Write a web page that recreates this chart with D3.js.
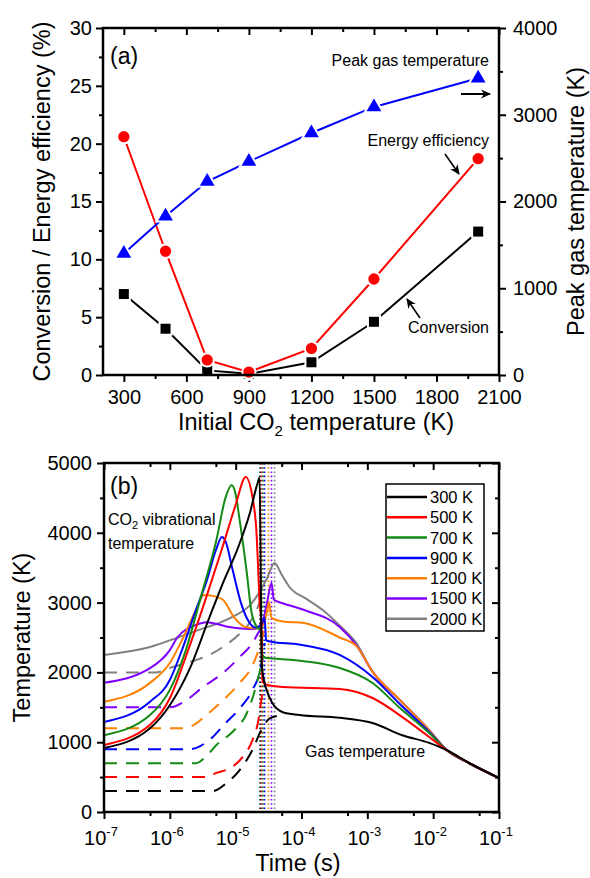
<!DOCTYPE html>
<html><head><meta charset="utf-8">
<script src="https://cdn.jsdelivr.net/npm/d3@7"></script>
<style>
body{margin:0;background:#fff}
svg{display:block}
text{font-family:"Liberation Sans",Arial,Helvetica,sans-serif;fill:#000}
</style>
</head><body>
<svg id="chart" width="590" height="878"></svg>
<script>
// ---------- Panel (a) data ----------
const aTemps = [300, 500, 700, 900, 1200, 1500, 2000];
const conversion = [7.0, 4.0, 0.4, 0.1, 1.1, 4.6, 12.4];
const efficiency = [20.6, 10.7, 1.3, 0.25, 2.3, 8.3, 18.7];
const peakGasTemp = [1400, 1830, 2230, 2460, 2790, 3090, 3420];
const aXTicks = [300, 600, 900, 1200, 1500, 1800, 2100];
const aXMinor = [450, 750, 1050, 1350, 1650, 1950];
const aYTicks = [0, 5, 10, 15, 20, 25, 30];
const aYMinor = [2.5, 7.5, 12.5, 17.5, 22.5, 27.5];
const aY2Ticks = [0, 1000, 2000, 3000, 4000];
const aY2Minor = [500, 1500, 2500, 3500];

// ---------- Panel (b) data ----------
const seriesNames = ["300 K", "500 K", "700 K", "900 K", "1200 K", "1500 K", "2000 K"];
const pulseEnd = [2.35e-5, 2.5e-5, 2.6e-5, 2.75e-5, 3.15e-5, 3.5e-5, 3.9e-5];
const bYTicks = [0, 1000, 2000, 3000, 4000, 5000];
const bYMinor = [500, 1500, 2500, 3500, 4500];
const bXExp = [-7, -6, -5, -4, -3, -2, -1];
const bXMinor = [5e-7, 5e-6, 5e-5, 5e-4, 5e-3, 5e-2];

// solid: CO2 vibrational temperature during pulse, then gas temperature after
const tSolid300 = [1e-7, 5e-7, 1e-6, 2e-6, 4e-6, 6.4e-6, 1.1e-5, 1.64e-5, 2.15e-5, 2.31e-5, 2.4e-5, 2.48e-5, 2.7e-5, 2.95e-5, 3.6e-5, 5.2e-5, 9.3e-5, 3.8e-4, 1.2e-3, 3.4e-3, 8.7e-3, 1.6e-2, 3.5e-2, 1e-1];
const vSolid300 = [917, 1200, 1530, 2050, 2790, 3280, 3800, 4280, 4710, 4790, 3500, 2130, 1880, 1750, 1560, 1430, 1390, 1350, 1275, 1100, 990, 888, 702, 487];
const tSolid500 = [1e-7, 5e-7, 1e-6, 1.9e-6, 3.5e-6, 6.1e-6, 1e-5, 1.42e-5, 1.8e-5, 2.09e-5, 2.2e-5, 2.31e-5, 2.45e-5, 2.55e-5, 2.8e-5, 5.2e-5, 3.8e-4, 1.2e-3, 3.4e-3, 8.7e-3, 1.6e-2, 3.5e-2, 1e-1];
const vSolid500 = [960, 1250, 1630, 2320, 3050, 3750, 4400, 4800, 4513, 3940, 3467, 2994, 2750, 1900, 1830, 1790, 1762, 1633, 1360, 1075, 888, 702, 487];
const tSolid700 = [1e-7, 5e-7, 1e-6, 1.75e-6, 3e-6, 5.1e-6, 7e-6, 8.7e-6, 1e-5, 1.15e-5, 1.46e-5, 1.75e-5, 2.15e-5, 2.45e-5, 2.55e-5, 2.8e-5, 5.2e-5, 3.8e-4, 1.2e-3, 3e-3, 8.7e-3, 1.6e-2, 3.5e-2, 1e-1];
const vSolid700 = [1100, 1390, 1750, 2320, 3100, 3897, 4500, 4685, 4550, 4183, 3467, 2851, 2636, 2600, 2250, 2210, 2190, 2063, 1848, 1504, 1132, 888, 702, 487];
const tSolid900 = [1e-7, 5e-7, 1e-6, 1.5e-6, 2.5e-6, 3.6e-6, 5e-6, 6.2e-6, 7e-6, 9e-6, 1.2e-5, 1.6e-5, 2e-5, 2.5e-5, 2.75e-5, 2.9e-5, 3.5e-5, 9e-5, 3.8e-4, 1.2e-3, 3e-3, 8.7e-3, 1.6e-2, 3.5e-2, 1e-1];
const vSolid900 = [1290, 1580, 1890, 2300, 2900, 3300, 3750, 3940, 3880, 3467, 3000, 2720, 2640, 2690, 2790, 2460, 2440, 2400, 2250, 1934, 1562, 1146, 888, 702, 487];
const tSolid1200 = [1e-7, 5e-7, 1e-6, 1.6e-6, 2.5e-6, 3.3e-6, 4.3e-6, 6.4e-6, 9.3e-6, 1.4e-5, 2e-5, 2.6e-5, 3e-5, 3.2e-5, 3.5e-5, 5.2e-5, 1.1e-4, 3.8e-4, 6.8e-4, 1.2e-3, 3e-3, 8.7e-3, 1.6e-2, 3.5e-2, 1e-1];
const vSolid1200 = [1580, 1850, 2135, 2500, 2900, 3110, 3100, 3040, 2800, 2650, 2630, 2680, 2880, 3010, 2780, 2730, 2708, 2500, 2380, 2010, 1620, 1170, 888, 702, 487];
const tSolid1500 = [1e-7, 5e-7, 1e-6, 1.3e-6, 2.5e-6, 3.6e-6, 8e-6, 1.8e-5, 2.5e-5, 3e-5, 3.5e-5, 3.8e-5, 5.2e-5, 1.1e-4, 3.8e-4, 6.8e-4, 1.2e-3, 3e-3, 8.7e-3, 1.6e-2, 3.5e-2, 1e-1];
const vSolid1500 = [1850, 2060, 2320, 2500, 2680, 2720, 2650, 2620, 2700, 3000, 3280, 3040, 2990, 2894, 2650, 2390, 2010, 1620, 1170, 888, 702, 487];
const tSolid2000 = [1e-7, 5e-7, 1.5e-6, 3e-6, 6e-6, 1e-5, 1.6e-5, 2.3e-5, 3e-5, 3.9e-5, 5e-5, 6.6e-5, 1.2e-4, 2.1e-4, 4e-4, 6.8e-4, 1.2e-3, 3e-3, 8.7e-3, 1.6e-2, 3.5e-2, 1e-1];
const vSolid2000 = [2250, 2365, 2520, 2620, 2720, 2820, 2950, 3150, 3350, 3567, 3400, 3220, 3050, 2894, 2650, 2420, 2010, 1620, 1175, 888, 702, 487];

// dashed: gas temperature during the pulse
const tGas300 = [1e-7, 4.5e-6, 7.3e-6, 1.15e-5, 1.8e-5, 2.45e-5, 3.3e-5, 5e-5];
const vGas300 = [300, 300, 415, 600, 890, 1175, 1340, 1385];
const tGas500 = [1e-7, 3.5e-6, 5.1e-6, 9e-6, 1.28e-5, 1.8e-5, 2.2e-5, 2.5e-5, 2.8e-5];
const vGas500 = [500, 500, 560, 650, 790, 1030, 1300, 1650, 1830];
const tGas700 = [1e-7, 2.5e-6, 3.5e-6, 5.1e-6, 9e-6, 1.45e-5, 1.9e-5, 2.3e-5, 2.6e-5];
const vGas700 = [700, 700, 790, 960, 1150, 1400, 1700, 2000, 2200];
const tGas900 = [1e-7, 2e-6, 2.9e-6, 4.5e-6, 6.6e-6, 1.2e-5, 1.8e-5, 2.45e-5, 2.75e-5];
const vGas900 = [900, 900, 945, 1075, 1246, 1504, 1748, 2100, 2420];
const tGas1200 = [1e-7, 1.5e-6, 2.3e-6, 3.6e-6, 6.5e-6, 1.15e-5, 1.8e-5, 2.3e-5, 2.8e-5];
const vGas1200 = [1200, 1200, 1246, 1390, 1605, 1848, 2100, 2360, 2650];
const tGas1500 = [1e-7, 1e-6, 1.8e-6, 3.2e-6, 6.4e-6, 1.15e-5, 1.8e-5, 2.2e-5, 2.5e-5];
const vGas1500 = [1500, 1500, 1605, 1791, 1991, 2220, 2421, 2564, 2650];
const tGas2000 = [1e-7, 6e-7, 1.1e-6, 2.5e-6, 4e-6, 6.4e-6, 1.1e-5, 1.6e-5, 2.2e-5, 2.6e-5];
const vGas2000 = [2000, 2000, 2077, 2177, 2250, 2364, 2536, 2700, 2950, 3150];

// ---------- styles ----------
const seriesColors = ["#000000", "#ff0000", "#138a13", "#0000ff", "#ff8000", "#8000ff", "#808080"];
const solidT = [tSolid300, tSolid500, tSolid700, tSolid900, tSolid1200, tSolid1500, tSolid2000];
const solidV = [vSolid300, vSolid500, vSolid700, vSolid900, vSolid1200, vSolid1500, vSolid2000];
const gasT = [tGas300, tGas500, tGas700, tGas900, tGas1200, tGas1500, tGas2000];
const gasV = [vGas300, vGas500, vGas700, vGas900, vGas1200, vGas1500, vGas2000];

const svg = d3.select("#chart");
const defs = svg.append("defs");
defs.append("marker").attr("id", "arr").attr("viewBox", "0 0 10 10").attr("refX", 9).attr("refY", 5)
  .attr("markerWidth", 10).attr("markerHeight", 10).attr("markerUnits", "userSpaceOnUse").attr("orient", "auto")
  .append("path").attr("d", "M0,0.5 L10,5 L0,9.5 L3,5 Z").attr("fill", "#000");

const fmt = d3.format("d");
function styleAxis(g, fs) {
  g.select(".domain").remove();
  g.selectAll(".tick line").attr("stroke", "#000").attr("stroke-width", 2);
  g.selectAll(".tick text").attr("fill", "#000").style("font-size", fs + "px")
    .style("font-family", '"Liberation Sans",Arial,sans-serif');
}

// ================= Panel (a) =================
const aL = 103, aR = 499, aT = 28, aB = 375;
const ax = d3.scaleLinear().domain([200, 2100]).range([aL, aR]);
const ay = d3.scaleLinear().domain([0, 30]).range([aB, aT]);
const ay2 = d3.scaleLinear().domain([0, 4000]).range([aB, aT]);

const ga = svg.append("g");
ga.append("g").attr("transform", `translate(0,${aB})`).call(d3.axisBottom(ax).tickValues(aXTicks).tickFormat(fmt).tickSize(7).tickPadding(8)).call(styleAxis, 20);
ga.append("g").attr("transform", `translate(0,${aB})`).call(d3.axisBottom(ax).tickValues(aXMinor).tickSize(4).tickFormat("")).call(styleAxis, 20);
ga.append("g").attr("transform", `translate(0,${aT})`).call(d3.axisTop(ax).tickValues(aXTicks).tickSize(-7).tickFormat("")).call(styleAxis, 20);
ga.append("g").attr("transform", `translate(0,${aT})`).call(d3.axisTop(ax).tickValues(aXMinor).tickSize(-4).tickFormat("")).call(styleAxis, 20);
ga.append("g").attr("transform", `translate(${aL},0)`).call(d3.axisLeft(ay).tickValues(aYTicks).tickFormat(fmt).tickSize(7).tickPadding(4)).call(styleAxis, 20);
ga.append("g").attr("transform", `translate(${aL},0)`).call(d3.axisLeft(ay).tickValues(aYMinor).tickSize(4).tickFormat("")).call(styleAxis, 20);
ga.append("g").attr("transform", `translate(${aR},0)`).call(d3.axisRight(ay2).tickValues(aY2Ticks).tickFormat(fmt).tickSize(7).tickPadding(7)).call(styleAxis, 20);
ga.append("g").attr("transform", `translate(${aR},0)`).call(d3.axisRight(ay2).tickValues(aY2Minor).tickSize(4).tickFormat("")).call(styleAxis, 20);

function seriesA(vals, yScale, color, shape) {
  const pts = aTemps.map((t, i) => [ax(t), yScale(vals[i])]);
  ga.append("path").attr("d", d3.line()(pts)).attr("fill", "none").attr("stroke", color).attr("stroke-width", 2);
  const sym = d3.symbol().type(shape).size(shape === d3.symbolTriangle ? 95 : 100);
  ga.selectAll(null).data(pts).enter().append("path")
    .attr("d", sym).attr("transform", d => `translate(${d[0]},${d[1]})`)
    .attr("fill", color).attr("stroke", "#fff").attr("stroke-width", 4).style("paint-order", "stroke");
}
seriesA(conversion, ay, "#000", d3.symbolSquare);
seriesA(efficiency, ay, "#ff0000", d3.symbolCircle);
seriesA(peakGasTemp, ay2, "#0000ff", d3.symbolTriangle);

ga.append("rect").attr("x", aL).attr("y", aT).attr("width", aR - aL).attr("height", aB - aT)
  .attr("fill", "none").attr("stroke", "#000").attr("stroke-width", 2.5);

// annotations (a)
ga.append("text").attr("x", 110).attr("y", 64).style("font-size", "23px").text("(a)");
ga.append("text").attr("x", 489).attr("y", 66).attr("text-anchor", "end").style("font-size", "16px").text("Peak gas temperature");
ga.append("line").attr("x1", 461).attr("y1", 94).attr("x2", 490).attr("y2", 94).attr("stroke", "#000").attr("stroke-width", 2).attr("marker-end", "url(#arr)");
ga.append("text").attr("x", 489).attr("y", 146).attr("text-anchor", "end").style("font-size", "16px").text("Energy efficiency");
ga.append("line").attr("x1", 445).attr("y1", 154).attr("x2", 459).attr("y2", 174).attr("stroke", "#000").attr("stroke-width", 1.6).attr("marker-end", "url(#arr)");
ga.append("text").attr("x", 489).attr("y", 333).attr("text-anchor", "end").style("font-size", "16px").text("Conversion");
ga.append("line").attr("x1", 420).attr("y1", 318).attr("x2", 407).attr("y2", 299).attr("stroke", "#000").attr("stroke-width", 1.6).attr("marker-end", "url(#arr)");

// axis titles (a)
ga.append("text").attr("transform", `translate(50,${(aT + aB) / 2}) rotate(-90)`).attr("text-anchor", "middle").style("font-size", "23.5px").text("Conversion / Energy efficiency (%)");
ga.append("text").attr("transform", `translate(584,${(aT + aB) / 2}) rotate(-90)`).attr("text-anchor", "middle").style("font-size", "23.5px").text("Peak gas temperature (K)");
const xtA = ga.append("text").attr("x", 316).attr("y", 430).attr("text-anchor", "middle").style("font-size", "23.5px");
xtA.append("tspan").text("Initial CO");
xtA.append("tspan").attr("dy", 6).style("font-size", "15px").text("2");
xtA.append("tspan").attr("dy", -6).text(" temperature (K)");

// ================= Panel (b) =================
const bL = 104, bR = 499, bT = 463, bB = 812;
const bx = d3.scaleLog().domain([1e-7, 1e-1]).range([bL, bR]);
const by = d3.scaleLinear().domain([0, 5000]).range([bB, bT]);
const bXTicks = bXExp.map(e => Math.pow(10, e));

const gb = svg.append("g");
gb.append("g").attr("transform", `translate(0,${bB})`).call(d3.axisBottom(bx).tickValues(bXTicks).tickSize(7).tickFormat("")).call(styleAxis, 20);
gb.append("g").attr("transform", `translate(0,${bB})`).call(d3.axisBottom(bx).tickValues(bXMinor).tickSize(4).tickFormat("")).call(styleAxis, 20);
gb.append("g").attr("transform", `translate(0,${bT})`).call(d3.axisTop(bx).tickValues(bXTicks).tickSize(-7).tickFormat("")).call(styleAxis, 20);
gb.append("g").attr("transform", `translate(0,${bT})`).call(d3.axisTop(bx).tickValues(bXMinor).tickSize(-4).tickFormat("")).call(styleAxis, 20);
gb.append("g").attr("transform", `translate(${bL},0)`).call(d3.axisLeft(by).tickValues(bYTicks).tickFormat(fmt).tickSize(7).tickPadding(5)).call(styleAxis, 20);
gb.append("g").attr("transform", `translate(${bL},0)`).call(d3.axisLeft(by).tickValues(bYMinor).tickSize(4).tickFormat("")).call(styleAxis, 20);
gb.append("g").attr("transform", `translate(${bR},0)`).call(d3.axisRight(by).tickValues(bYTicks).tickSize(-7).tickFormat("")).call(styleAxis, 20);
gb.append("g").attr("transform", `translate(${bR},0)`).call(d3.axisRight(by).tickValues(bYMinor).tickSize(-4).tickFormat("")).call(styleAxis, 20);

// log tick labels 10^n
bXExp.forEach((e, i) => {
  const t = gb.append("text").attr("x", bx(bXTicks[i]) - 3).attr("y", 845).attr("text-anchor", "middle").style("font-size", "20px");
  t.append("tspan").text("10");
  t.append("tspan").attr("dy", -9).style("font-size", "13px").text("-" + Math.abs(e));
});

defs.append("clipPath").attr("id", "clipb").append("rect").attr("x", bL).attr("y", bT).attr("width", bR - bL).attr("height", bB - bT);
const plotB = gb.append("g").attr("clip-path", "url(#clipb)");

// pulse-end dotted lines
pulseEnd.forEach((t, i) => {
  plotB.append("line").attr("x1", bx(t)).attr("x2", bx(t)).attr("y1", bT).attr("y2", bB)
    .attr("stroke", seriesColors[i]).attr("stroke-width", 1.6).attr("stroke-dasharray", "1.6,2.6");
});

const lineB = d3.line().x(d => bx(d[0])).y(d => by(d[1])).curve(d3.curveMonotoneX);
// dashed gas temperature
for (let i = seriesNames.length - 1; i >= 0; i--) {
  const pts = gasT[i].map((t, j) => [t, gasV[i][j]]);
  plotB.append("path").attr("d", lineB(pts)).attr("fill", "none").attr("stroke", seriesColors[i])
    .attr("stroke-width", 2).attr("stroke-dasharray", "13,9");
}
// solid curves
for (let i = seriesNames.length - 1; i >= 0; i--) {
  const pts = solidT[i].map((t, j) => [t, solidV[i][j]]);
  plotB.append("path").attr("d", lineB(pts)).attr("fill", "none").attr("stroke", seriesColors[i]).attr("stroke-width", 2);
}

gb.append("rect").attr("x", bL).attr("y", bT).attr("width", bR - bL).attr("height", bB - bT)
  .attr("fill", "none").attr("stroke", "#000").attr("stroke-width", 2.5);

// legend
const leg = gb.append("g");
leg.append("rect").attr("x", 386).attr("y", 484).attr("width", 98).attr("height", 147).attr("fill", "#fff").attr("stroke", "#000").attr("stroke-width", 1.5);
seriesNames.forEach((n, i) => {
  const y = 497 + i * 20.3;
  leg.append("line").attr("x1", 387).attr("x2", 427).attr("y1", y).attr("y2", y).attr("stroke", seriesColors[i]).attr("stroke-width", 2.5);
  leg.append("text").attr("x", 430).attr("y", y).attr("dy", "0.36em").style("font-size", "16.5px").text(n);
});

// annotations (b)
gb.append("text").attr("x", 110).attr("y", 494).style("font-size", "23px").text("(b)");
const co2 = gb.append("text").attr("x", 108).attr("y", 525).style("font-size", "16px");
co2.append("tspan").text("CO");
co2.append("tspan").attr("dy", 4).style("font-size", "11px").text("2");
co2.append("tspan").attr("dy", -4).text(" vibrational");
gb.append("text").attr("x", 108).attr("y", 549).style("font-size", "16px").text("temperature");
gb.append("text").attr("x", 305).attr("y", 757).style("font-size", "16px").text("Gas temperature");

// axis titles (b)
gb.append("text").attr("transform", `translate(30,${(bT + bB) / 2}) rotate(-90)`).attr("text-anchor", "middle").style("font-size", "23.5px").text("Temperature (K)");
gb.append("text").attr("x", 298).attr("y", 871).attr("text-anchor", "middle").style("font-size", "23.5px").text("Time (s)");
</script>
</body></html>
